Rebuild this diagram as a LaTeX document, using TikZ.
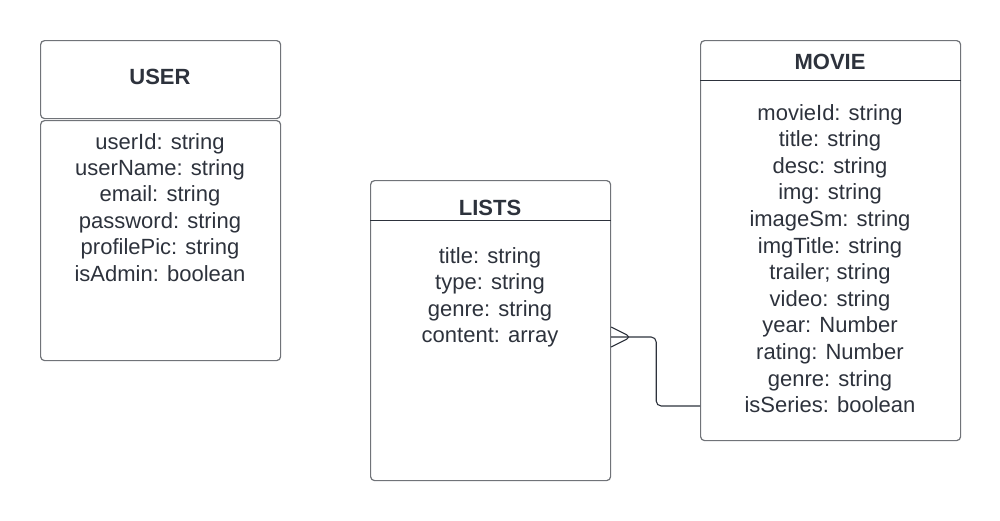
\documentclass[tikz,border=0pt]{standalone}
\usepackage{fontspec}
\setmainfont{Liberation Sans}
\usetikzlibrary{calc,positioning}
\definecolor{edgegray}{RGB}{112,115,120}
\definecolor{inkdark}{RGB}{45,50,60}

\begin{document}
\begin{tikzpicture}
  [x=1pt, y=-1pt,
   entity/.style={draw=edgegray, line width=1.2pt, rounded corners=4pt,
     minimum width=240pt, inner sep=0pt, anchor=north west},
   title/.style={text=inkdark, font=\fontsize{22}{26.5}\selectfont\bfseries,
     inner sep=0pt, anchor=base},
   attr/.style={text=inkdark, font=\fontsize{22}{26.5}\selectfont,
     inner sep=0pt, anchor=base},
   headline/.style={draw=inkdark, line width=1pt},
   link/.style={draw=inkdark, line width=1.1pt, rounded corners=5pt},
  ]
  \useasboundingbox (0,0) rectangle (1000,520);

  % USER
  \node[entity, minimum height=78pt] (userhead) at (40,40) {};
  \node[entity, minimum height=240pt] (user) at (40,120) {};
  \node[title] (usertitle) at (160,84) {USER};
  \foreach \attr [count=\i] in {userId: string, userName: string,
      email: string, password: string, profilePic: string, isAdmin: boolean}
    \node[attr] (user-\i) at (160,{149+26.4*(\i-1)}) {\attr};

  % LISTS
  \node[entity, minimum height=300pt] (lists) at (370,180) {};
  \draw[headline] ($(lists.north west)+(0,40)$) -- ($(lists.north east)+(0,40)$);
  \node[title] (liststitle) at (490,215) {LISTS};
  \foreach \attr [count=\i] in {title: string, type: string,
      genre: string, content: array}
    \node[attr] (lists-\i) at (490,{263.3+26.4*(\i-1)}) {\attr};

  % MOVIE
  \node[entity, minimum width=260pt, minimum height=400pt] (movie) at (700,40) {};
  \draw[headline] ($(movie.north west)+(0,40)$) -- ($(movie.north east)+(0,40)$);
  \node[title] (movietitle) at (830,69.3) {MOVIE};
  \foreach \attr [count=\i] in {movieId: string, title: string, desc: string,
      img: string, imageSm: string, imgTitle: string, {trailer; string},
      video: string, year: Number, rating: Number, genre: string,
      isSeries: boolean}
    \node[attr] (movie-\i) at (830,{120+26.6*(\i-1)}) {\attr};

  % many lists -- movie
  \coordinate (crow) at (lists.east |- 0,337);
  \coordinate (moviein) at (movie.west |- 0,406);
  \draw[link] (crow) -- ++(45,0) |- (moviein);
  \draw[link] ($(crow)+(0,-10)$) -- ($(crow)+(20,0)$) -- ($(crow)+(0,10)$);
\end{tikzpicture}
\end{document}
